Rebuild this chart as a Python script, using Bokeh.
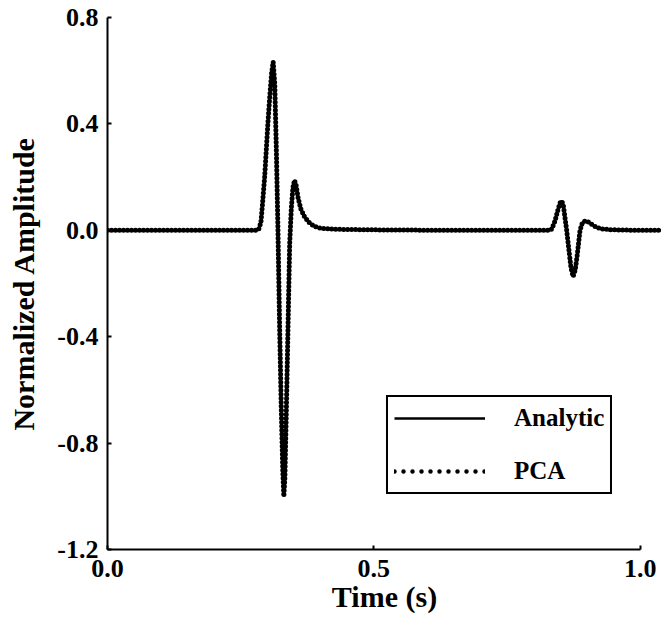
from bokeh.plotting import figure
from bokeh.models import Range1d, FixedTicker, NumeralTickFormatter, Legend, LegendItem
from bokeh.embed import file_html
from bokeh.resources import INLINE

# --- data ---
time_s = [0.0, 0.10, 0.20, 0.28, 0.284, 0.288, 0.291, 0.295, 0.298, 0.301, 0.3045,
          0.308, 0.311, 0.314, 0.317, 0.320, 0.323, 0.326, 0.329, 0.331, 0.333,
          0.336, 0.339, 0.342, 0.345, 0.348, 0.351, 0.354, 0.358, 0.363, 0.370,
          0.378, 0.388, 0.400, 0.430, 0.480, 0.550, 0.650, 0.750, 0.830, 0.834,
          0.840, 0.846, 0.850, 0.853, 0.856, 0.859, 0.862, 0.866, 0.870, 0.874,
          0.878, 0.882, 0.887, 0.891, 0.895, 0.899, 0.905, 0.912, 0.920, 0.930,
          0.945, 0.970, 1.000, 1.040]
analytic = [0.0, 0.0, 0.0, 0.0, 0.005, 0.03, 0.10, 0.20, 0.30, 0.40, 0.50,
            0.59, 0.633, 0.55, 0.30, 0.0, -0.35, -0.65, -0.90, -1.0, -0.93,
            -0.65, -0.35, -0.05, 0.08, 0.16, 0.188, 0.17, 0.12, 0.08, 0.05,
            0.03, 0.015, 0.008, 0.004, 0.002, 0.001, 0.0, 0.0, 0.0, 0.005,
            0.035, 0.08, 0.105, 0.11, 0.09, 0.045, 0.0, -0.07, -0.14, -0.173,
            -0.15, -0.09, 0.0, 0.025, 0.034, 0.035, 0.028, 0.018, 0.010, 0.005,
            0.002, 0.001, 0.0, 0.0]
pca = [0.0, 0.0, 0.0, 0.0, 0.005, 0.03, 0.10, 0.20, 0.30, 0.40, 0.50,
       0.59, 0.633, 0.55, 0.30, 0.0, -0.35, -0.65, -0.90, -1.0, -0.93,
       -0.65, -0.35, -0.05, 0.08, 0.16, 0.188, 0.17, 0.12, 0.08, 0.05,
       0.03, 0.015, 0.008, 0.004, 0.002, 0.001, 0.0, 0.0, 0.0, 0.005,
       0.035, 0.08, 0.105, 0.11, 0.09, 0.045, 0.0, -0.07, -0.14, -0.173,
       -0.15, -0.09, 0.0, 0.025, 0.034, 0.035, 0.028, 0.018, 0.010, 0.005,
       0.002, 0.001, 0.0, 0.0]
x_ticks = [0.0, 0.5, 1.0]
y_ticks = [-1.2, -0.8, -0.4, 0.0, 0.4, 0.8]
series_names = ["Analytic", "PCA"]

FONT = "Liberation Serif"
NAN = float("nan")

p = figure(width=661, height=624, output_backend="svg", toolbar_location=None,
           x_range=Range1d(0, 1.04), y_range=Range1d(-1.2, 0.8),
           min_border_left=107, min_border_right=0, min_border_top=17,
           min_border_bottom=75)
p.outline_line_color = None
p.grid.visible = False
p.background_fill_color = "white"
p.border_fill_color = "white"

for ax in (p.xaxis[0], p.yaxis[0]):
    ax.axis_line_color = "black"
    ax.axis_line_width = 2
    ax.major_tick_line_color = "black"
    ax.major_tick_line_width = 2
    ax.major_tick_in = 4
    ax.major_tick_out = 0
    ax.minor_tick_line_color = None
    ax.major_label_text_font = FONT
    ax.major_label_text_font_style = "bold"
    ax.major_label_text_font_size = "26px"
    ax.major_label_text_color = "black"
    ax.axis_label_text_font = FONT
    ax.axis_label_text_font_style = "bold"
    ax.axis_label_text_font_size = "30px"
    ax.axis_label_text_color = "black"
    ax.formatter = NumeralTickFormatter(format="0.0")

p.xaxis[0].ticker = FixedTicker(ticks=x_ticks)
p.yaxis[0].ticker = FixedTicker(ticks=y_ticks)
p.xaxis[0].bounds = (0, 1.0)
p.yaxis[0].bounds = (-1.2, 0.8)
p.xaxis[0].axis_label = "Time (s)"
p.yaxis[0].axis_label = "Normalized Amplitude"
p.xaxis[0].major_label_standoff = 10
p.xaxis[0].axis_label_standoff = 0
p.yaxis[0].major_label_standoff = 9
p.yaxis[0].axis_label_standoff = 14

r_an = p.line(time_s, analytic, line_color="black", line_width=2.5)
r_pca = p.line(time_s, pca, line_color="black", line_width=5,
               line_dash="0 4", line_cap="round")

# legend swatch proxies (a single NaN point, never visible on the plot)
leg_an = p.line([NAN], [NAN], line_color="black", line_width=2.5)
leg_pca = p.line([NAN], [NAN], line_color="black", line_width=4.5,
                 line_dash="0 9", line_cap="round")

legend = Legend(items=[LegendItem(label=series_names[0], renderers=[leg_an]),
                       LegendItem(label=series_names[1], renderers=[leg_pca])],
                location=(279, 55))
legend.border_line_color = "black"
legend.border_line_alpha = 1
legend.border_line_width = 2
legend.background_fill_alpha = 1
legend.label_text_font = FONT
legend.label_text_font_style = "bold"
legend.label_text_font_size = "25px"
legend.label_text_color = "black"
legend.glyph_width = 91
legend.glyph_height = 30
legend.label_height = 30
legend.label_standoff = 29
legend.padding = 6
legend.spacing = 23
legend.margin = 0
p.add_layout(legend, "center")

open("out.html", "w").write(file_html(p, INLINE))
